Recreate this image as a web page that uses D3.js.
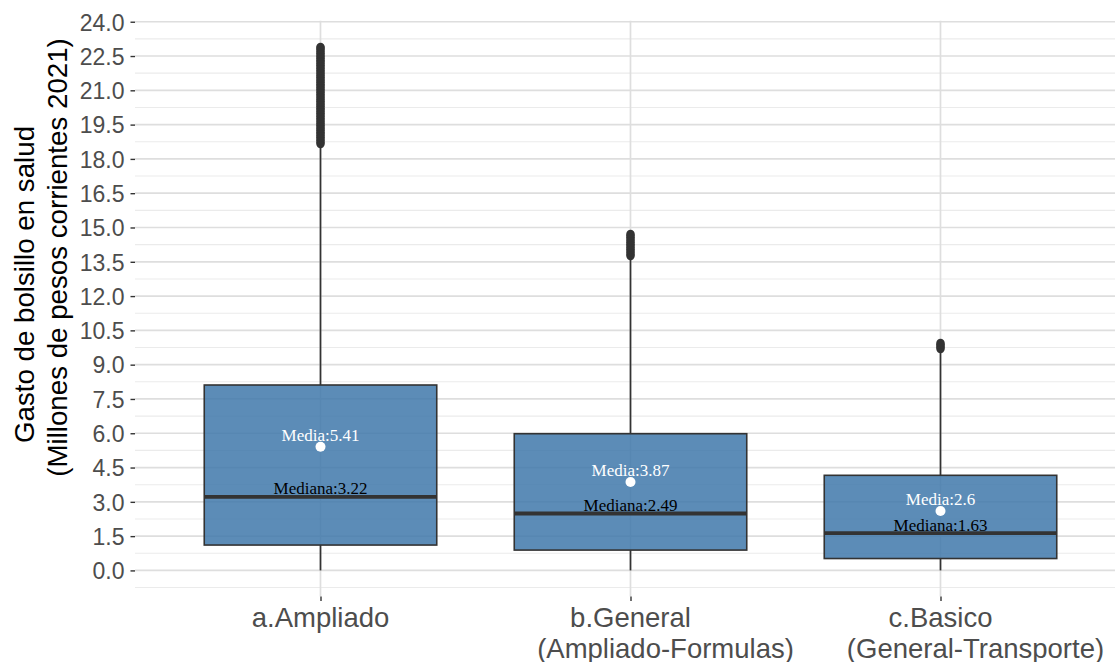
<!DOCTYPE html>
<html>
<head>
<meta charset="utf-8">
<script src="https://cdn.jsdelivr.net/npm/d3@7"></script>
<style>
  body { margin: 0; background: #fff; }
</style>
</head>
<body>
<div id="canvas"></div>
<script>
// box stats (millones de pesos)
var categories = ['a.Ampliado', 'b.General\n(Ampliado-Formulas)', 'c.Basico\n(General-Transporte)'];
var whiskerLow = [0, 0, 0];
var q1 = [1.11, 0.89, 0.52];
var medians = [3.22, 2.49, 1.63];
var q3 = [8.11, 5.98, 4.16];
var whiskerHigh = [18.6, 13.65, 9.62];
var means = [5.41, 3.87, 2.6];
var outliers = [
  [18.65, 18.72, 18.8, 18.87, 18.95, 19.02, 19.1, 19.17, 19.25, 19.32, 19.4, 19.47, 19.55, 19.62,
   19.7, 19.77, 19.85, 19.92, 20.0, 20.07, 20.15, 20.22, 20.3, 20.37, 20.45, 20.52, 20.6, 20.67,
   20.75, 20.82, 20.9, 20.97, 21.05, 21.12, 21.2, 21.27, 21.35, 21.42, 21.5, 21.57, 21.65, 21.72,
   21.8, 21.87, 21.95, 22.02, 22.1, 22.17, 22.25, 22.32, 22.4, 22.47, 22.55, 22.62, 22.7, 22.78,
   22.85, 22.9],
  [13.75, 13.82, 13.9, 13.97, 14.05, 14.12, 14.2, 14.27, 14.35, 14.42, 14.5, 14.57, 14.65, 14.72],
  [9.68, 9.75, 9.82, 9.88, 9.95]
];
var yTicks = [0, 1.5, 3, 4.5, 6, 7.5, 9, 10.5, 12, 13.5, 15, 16.5, 18, 19.5, 21, 22.5, 24];
var yMinor = [-0.75, 0.75, 2.25, 3.75, 5.25, 6.75, 8.25, 9.75, 11.25, 12.75, 14.25, 15.75, 17.25, 18.75, 20.25, 21.75, 23.25];

var W = 1115, H = 662;
var panelLeft = 135, panelRight = 1126, panelTop = 20.7, panelBottom = 596.6;

var svg = d3.select('#canvas').append('svg')
  .attr('width', W)
  .attr('height', H)
  .style('font-family', 'Arial, "Liberation Sans", sans-serif');

var y = d3.scaleLinear().domain([-1.145, 24.045]).range([panelBottom, panelTop]);
var x = d3.scalePoint().domain(categories).range([320.5, 940.5]);
var boxW = 232.5;

var data = categories.map(function (c, i) {
  return { cat: c, lo: whiskerLow[i], q1: q1[i], med: medians[i], q3: q3[i],
           hi: whiskerHigh[i], mean: means[i], out: outliers[i] };
});

// grid
svg.selectAll('line.minor').data(yMinor).enter().append('line')
  .attr('x1', panelLeft).attr('x2', panelRight)
  .attr('y1', function (d) { return y(d); })
  .attr('y2', function (d) { return y(d); })
  .attr('stroke', '#ebebeb').attr('stroke-width', 1.1);

svg.selectAll('line.major').data(yTicks).enter().append('line')
  .attr('x1', panelLeft).attr('x2', panelRight)
  .attr('y1', function (d) { return y(d); })
  .attr('y2', function (d) { return y(d); })
  .attr('stroke', '#dedede').attr('stroke-width', 1.7);

svg.selectAll('line.vmajor').data(categories).enter().append('line')
  .attr('x1', function (d) { return x(d); })
  .attr('x2', function (d) { return x(d); })
  .attr('y1', panelTop).attr('y2', panelBottom)
  .attr('stroke', '#dedede').attr('stroke-width', 1.7);

// whiskers
var g = svg.selectAll('g.box').data(data).enter().append('g');

g.append('line')
  .attr('x1', function (d) { return x(d.cat); })
  .attr('x2', function (d) { return x(d.cat); })
  .attr('y1', function (d) { return y(d.q3); })
  .attr('y2', function (d) { return y(d.hi); })
  .attr('stroke', '#333').attr('stroke-width', 1.7);

g.append('line')
  .attr('x1', function (d) { return x(d.cat); })
  .attr('x2', function (d) { return x(d.cat); })
  .attr('y1', function (d) { return y(d.q1); })
  .attr('y2', function (d) { return y(d.lo); })
  .attr('stroke', '#333').attr('stroke-width', 1.7);

// outliers
g.each(function (d) {
  d3.select(this).selectAll('circle.out').data(d.out).enter().append('circle')
    .attr('cx', x(d.cat))
    .attr('cy', function (v) { return y(v); })
    .attr('r', 4.2)
    .attr('fill', '#333');
});

// boxes
g.append('rect')
  .attr('x', function (d) { return x(d.cat) - boxW / 2; })
  .attr('y', function (d) { return y(d.q3); })
  .attr('width', boxW)
  .attr('height', function (d) { return y(d.q1) - y(d.q3); })
  .attr('fill', '#3f78aa').attr('fill-opacity', 0.85)
  .attr('stroke', '#333').attr('stroke-width', 1.6);

g.append('line')
  .attr('x1', function (d) { return x(d.cat) - boxW / 2; })
  .attr('x2', function (d) { return x(d.cat) + boxW / 2; })
  .attr('y1', function (d) { return y(d.med); })
  .attr('y2', function (d) { return y(d.med); })
  .attr('stroke', '#333').attr('stroke-width', 3.8);

// mean point + labels
g.append('circle')
  .attr('cx', function (d) { return x(d.cat); })
  .attr('cy', function (d) { return y(d.mean); })
  .attr('r', 5)
  .attr('fill', '#fff');

g.append('text')
  .attr('x', function (d) { return x(d.cat); })
  .attr('y', function (d) { return y(d.mean) - 5.5; })
  .attr('text-anchor', 'middle')
  .style('font-family', '"Liberation Serif", "Times New Roman", serif')
  .style('font-size', '17px')
  .attr('fill', '#fff')
  .text(function (d) { return 'Media:' + d.mean; });

g.append('text')
  .attr('x', function (d) { return x(d.cat); })
  .attr('y', function (d) { return y(d.med) - 2.5; })
  .attr('text-anchor', 'middle')
  .style('font-family', '"Liberation Serif", "Times New Roman", serif')
  .style('font-size', '17px')
  .attr('fill', '#000')
  .text(function (d) { return 'Mediana:' + d.med; });

// y axis
var yAxis = svg.append('g')
  .attr('transform', 'translate(' + panelLeft + ',0)')
  .call(d3.axisLeft(y).tickValues(yTicks).tickFormat(d3.format('.1f')).tickSize(4.5).tickPadding(6));
yAxis.select('.domain').remove();
yAxis.selectAll('.tick line').attr('stroke', '#333').attr('stroke-width', 1.4);
yAxis.selectAll('.tick text')
  .style('font-size', '23px').style('font-family', 'Arial, "Liberation Sans", sans-serif')
  .attr('fill', '#4d4d4d').attr('dy', '0.36em');

// x axis
var xAxis = svg.append('g')
  .attr('transform', 'translate(0,' + panelBottom + ')')
  .call(d3.axisBottom(x).tickSize(4.5).tickFormat(''));
xAxis.select('.domain').remove();
xAxis.selectAll('.tick line').attr('stroke', '#333').attr('stroke-width', 1.4);

// second line of the labels sits a bit right of the tick in the original
svg.selectAll('text.xlab').data(categories).enter().append('text')
  .attr('text-anchor', 'middle')
  .attr('fill', '#4d4d4d')
  .style('font-size', '27.5px')
  .each(function (d) {
    var lines = d.split('\n');
    var t = d3.select(this);
    lines.forEach(function (l, i) {
      t.append('tspan')
        .attr('x', x(d) + (i > 0 ? 35 : 0))
        .attr('y', 627 + i * 31)
        .text(l);
    });
  });

// y title, two lines
svg.append('text')
  .attr('transform', 'translate(33.5,284.5) rotate(-90)')
  .attr('text-anchor', 'middle')
  .style('font-size', '27.7px')
  .attr('fill', '#000')
  .text('Gasto de bolsillo en salud');

svg.append('text')
  .attr('transform', 'translate(66.5,257.5) rotate(-90)')
  .attr('text-anchor', 'middle')
  .style('font-size', '27.7px')
  .attr('fill', '#000')
  .text('(Millones de pesos corrientes 2021)');
</script>
</body>
</html>
